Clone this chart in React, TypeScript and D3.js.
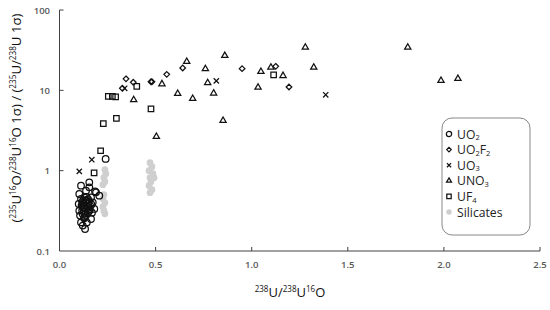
import * as d3 from "d3";
import React from "react";

// UO2 (hollow circles)
const uo2X = [0.155, 0.112, 0.19, 0.207, 0.103, 0.1, 0.121, 0.155, 0.164, 0.112, 0.133, 0.138, 0.129, 0.147, 0.121, 0.173, 0.164, 0.112, 0.138, 0.155, 0.129, 0.181, 0.103, 0.142, 0.121, 0.24, 0.185, 0.127, 0.148, 0.122, 0.159, 0.138, 0.107, 0.169, 0.131, 0.143, 0.118, 0.152, 0.126, 0.136, 0.115, 0.149, 0.133, 0.124, 0.158, 0.141, 0.119, 0.166, 0.135, 0.128];
const uo2Y = [0.715, 0.65, 0.537, 0.488, 0.513, 0.385, 0.289, 0.318, 0.25, 0.227, 0.188, 0.423, 0.465, 0.385, 0.349, 0.403, 0.465, 0.444, 0.563, 0.62, 0.262, 0.334, 0.318, 0.227, 0.207, 1.4, 0.552, 0.367, 0.3, 0.423, 0.367, 0.276, 0.276, 0.3, 0.34, 0.36, 0.32, 0.41, 0.39, 0.31, 0.37, 0.44, 0.29, 0.35, 0.33, 0.47, 0.4, 0.38, 0.43, 0.255];

// UO2F2 (diamonds)
const uo2f2X = [0.346, 0.384, 0.327, 0.476, 0.481, 0.558, 0.641, 0.95, 1.125, 1.194];
const uo2f2Y = [13.9, 12.6, 10.6, 12.8, 12.8, 15.8, 19.0, 18.6, 19.9, 11.0];

// UO3 (crosses)
const uo3X = [0.339, 0.816, 1.385, 0.168, 0.103];
const uo3Y = [10.6, 13.1, 8.8, 1.37, 0.98];

// UNO3 (triangles)
const uno3X = [1.279, 0.86, 0.662, 0.759, 1.323, 1.048, 1.1, 1.163, 0.533, 0.771, 0.615, 0.802, 0.693, 1.033, 0.386, 0.851, 0.504, 1.812, 1.985, 2.073];
const uno3Y = [34.3, 27.0, 22.8, 18.5, 19.3, 17.1, 19.3, 15.2, 12.0, 12.4, 9.1, 9.2, 7.9, 10.9, 7.6, 4.2, 2.65, 34.3, 13.2, 14.0];

// UF4 (squares)
const uf4X = [0.254, 0.275, 0.292, 0.402, 1.114, 0.476, 0.296, 0.228, 0.214, 0.18];
const uf4Y = [8.4, 8.4, 8.3, 11.2, 15.6, 5.87, 4.48, 3.85, 1.77, 0.94];

// Silicates (grey dots)
const silX = [0.236, 0.241, 0.231, 0.236, 0.226, 0.231, 0.226, 0.236, 0.226, 0.231, 0.236, 0.471, 0.481, 0.466, 0.486, 0.471, 0.476, 0.466, 0.481, 0.471, 0.492];
const silY = [1.03, 0.918, 0.818, 0.729, 0.669, 0.503, 0.448, 0.399, 0.356, 0.318, 0.291, 1.258, 1.12, 1.0, 0.918, 0.818, 0.729, 0.65, 0.58, 0.532, 0.818];

const xTicks = [0, 0.5, 1, 1.5, 2, 2.5];
const yTicks = [0.1, 1, 10, 100];

type Part = [string, "n" | "sup" | "sub"];

function Rich({ parts, size }: { parts: Part[]; size: number }) {
  let state = "n";
  return (
    <>
      {parts.map(([t, k], i) => {
        const off = (s: string) => (s === "sup" ? -size * 0.38 : s === "sub" ? size * 0.14 : 0);
        const dy = off(k) - off(state);
        state = k;
        return (
          <tspan key={i} dy={dy} fontSize={k === "n" ? size : size * 0.62}>
            {t}
          </tspan>
        );
      })}
    </>
  );
}

const series = [
  { name: [["UO", "n"], ["2", "sub"]] as Part[], xs: uo2X, ys: uo2Y, kind: "circle" },
  { name: [["UO", "n"], ["2", "sub"], ["F", "n"], ["2", "sub"]] as Part[], xs: uo2f2X, ys: uo2f2Y, kind: "diamond" },
  { name: [["UO", "n"], ["3", "sub"]] as Part[], xs: uo3X, ys: uo3Y, kind: "times" },
  { name: [["UNO", "n"], ["3", "sub"]] as Part[], xs: uno3X, ys: uno3Y, kind: "triangle" },
  { name: [["UF", "n"], ["4", "sub"]] as Part[], xs: uf4X, ys: uf4Y, kind: "square" },
  { name: [["Silicates", "n"]] as Part[], xs: silX, ys: silY, kind: "dot" },
];

function Marker({ kind, x, y, s = 1 }: { kind: string; x: number; y: number; s?: number }) {
  if (kind === "circle")
    return <circle cx={x} cy={y} r={3.3 * s} fill="none" stroke="#111" strokeWidth={1.25} />;
  if (kind === "dot") return <circle cx={x} cy={y} r={3.4 * s} fill="#cfcfcf" />;
  const types: Record<string, [d3.SymbolType, number]> = {
    diamond: [d3.symbolDiamond2, 20],
    times: [d3.symbolTimes, 20],
    triangle: [d3.symbolTriangle2, 28],
    square: [d3.symbolSquare2, 38],
  };
  const [t, size] = types[kind];
  const path = d3.symbol().type(t).size(size * s * s)();
  return (
    <path
      d={path || ""}
      transform={`translate(${x},${y})`}
      fill="none"
      stroke="#111"
      strokeWidth={1.25}
    />
  );
}

export default function App() {
  const x = d3.scaleLinear().domain([0, 2.5]).range([59.5, 540]);
  const y = d3.scaleLog().domain([0.1, 100]).range([251, 10]);
  const font = "'Open Sans', 'Noto Sans', sans-serif";

  return (
    <svg
      width={550}
      height={310}
      style={{ position: "absolute", left: 0, top: 0, background: "#fff" }}
      fontFamily={font}
    >
      {/* axes */}
      <line x1={x(0)} x2={x(0)} y1={y(100)} y2={y(0.1)} stroke="#404040" />
      <line x1={x(0)} x2={x(2.5)} y1={y(0.1)} y2={y(0.1)} stroke="#404040" />
      {xTicks.map((t) => (
        <g key={t}>
          {t > 0 && <line x1={x(t)} x2={x(t)} y1={y(0.1)} y2={y(0.1) - 4} stroke="#404040" />}
          <text x={x(t)} y={268} textAnchor="middle" fontSize={9.5} fill="#595959" fontWeight={600}>
            {d3.format(".1f")(t)}
          </text>
        </g>
      ))}
      {yTicks.map((t) => (
        <g key={t}>
          {t > 0.1 && <line x1={x(0)} x2={x(0) + 4} y1={y(t)} y2={y(t)} stroke="#404040" />}
          <text x={50} y={y(t) + 3.5} textAnchor="end" fontSize={9.5} fill="#595959" fontWeight={600}>
            {String(t)}
          </text>
        </g>
      ))}

      {/* axis titles */}
      <text x={290} y={297} textAnchor="middle" fill="#111">
        <Rich
          size={13}
          parts={[["238", "sup"], ["U/", "n"], ["238", "sup"], ["U", "n"], ["16", "sup"], ["O", "n"]]}
        />
      </text>
      <text transform="translate(21,118) rotate(-90)" textAnchor="middle" fill="#111">
        <Rich
          size={13.2}
          parts={[
            ["(", "n"], ["235", "sup"], ["U", "n"], ["16", "sup"], ["O/", "n"], ["238", "sup"], ["U", "n"],
            ["16", "sup"], ["O 1σ) / (", "n"], ["235", "sup"], ["U/", "n"], ["238", "sup"], ["U 1σ)", "n"],
          ]}
        />
      </text>

      {/* points: silicates first so outlines sit on top */}
      {[...series].reverse().map((s) =>
        s.xs.map((v, i) => <Marker key={s.kind + i} kind={s.kind} x={x(v)} y={y(s.ys[i])} />)
      )}

      {/* legend */}
      <rect x={442} y={118} width={88} height={117} rx={10} fill="#fff" stroke="#888" />
      {series.map((s, i) => (
        <g key={s.kind} transform={`translate(0,${134 + i * 15.6})`}>
          <Marker kind={s.kind} x={449} y={0} s={0.8} />
          <text x={457} y={4.5} fill="#222">
            <Rich size={12.2} parts={s.name} />
          </text>
        </g>
      ))}
    </svg>
  );
}
